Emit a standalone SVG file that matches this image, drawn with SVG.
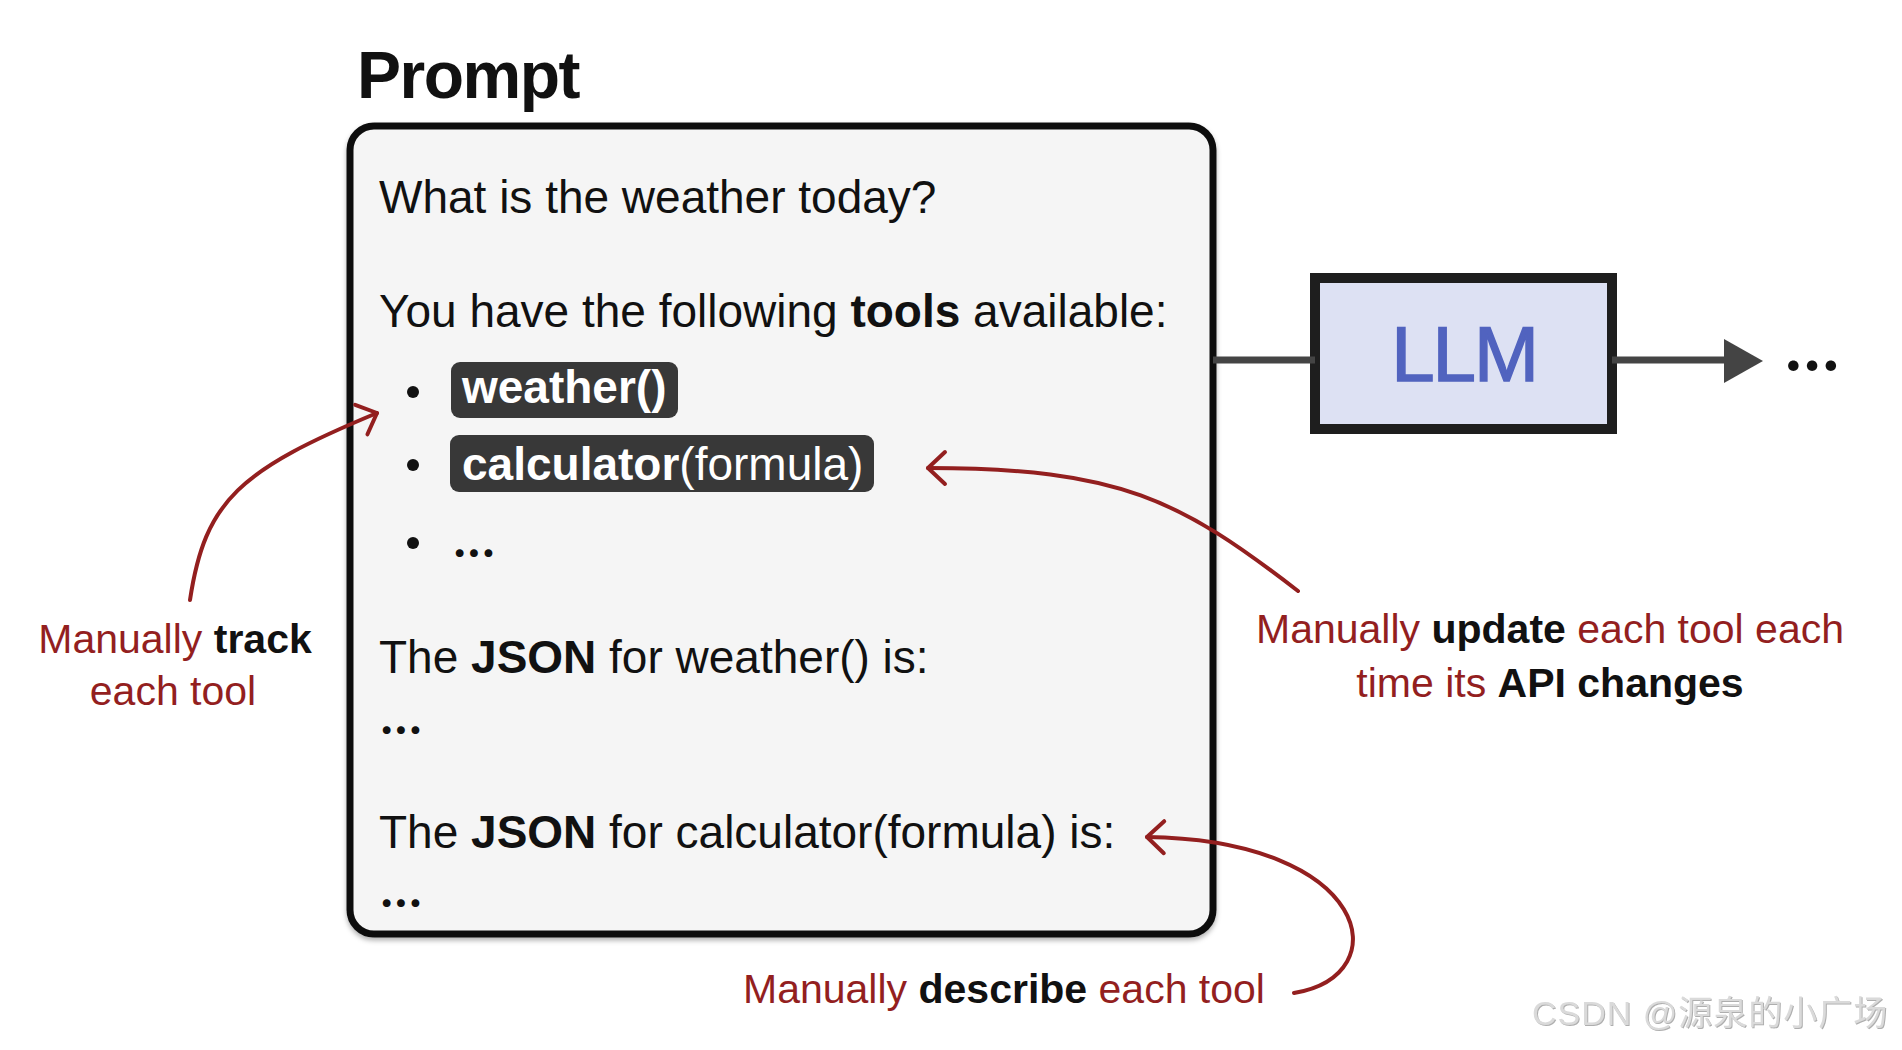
<svg xmlns="http://www.w3.org/2000/svg" width="1902" height="1050" viewBox="0 0 1902 1050">
<style>
text{font-family:"Liberation Sans",Arial,sans-serif;}
.t{font-size:46px;fill:#111;}
.b{font-weight:bold;}
.dots{font-family:Inter,"Liberation Sans",sans-serif;font-weight:bold;}
.pill{fill:#383838;}
.pt{font-size:46px;fill:#fff;}
.ann{font-size:41px;fill:#931f1f;}
.blk{fill:#111;font-weight:bold;}
.red{fill:none;stroke:#931f1f;stroke-width:4;stroke-linecap:round;}
.gray{stroke:#444;stroke-width:7;}
</style>
<defs>
<marker id="chev" markerUnits="userSpaceOnUse" markerWidth="40" markerHeight="40" viewBox="-25 -20 30 40" refX="0" refY="0" orient="auto">
<path d="M-17,-16 L0,0 L-17,16" fill="none" stroke="#931f1f" stroke-width="4" stroke-linecap="round" stroke-linejoin="round"/>
</marker>
<filter id="sh" x="-5%" y="-5%" width="110%" height="110%">
<feDropShadow dx="0" dy="3" stdDeviation="2.5" flood-color="#000" flood-opacity="0.3"/>
</filter>
<filter id="emb" x="-5%" y="-20%" width="110%" height="140%">
<feDropShadow dx="1" dy="1" stdDeviation="0.6" flood-color="#9a9a9a" flood-opacity="0.8"/>
</filter>
</defs>
<rect width="1902" height="1050" fill="#fff"/>

<g id="prompt">
<text x="357" y="98" font-size="66" font-weight="bold" fill="#111" letter-spacing="-1.5">Prompt</text>
<rect x="350" y="126" width="863" height="808" rx="24" fill="#f5f5f5" stroke="#111" stroke-width="7" filter="url(#sh)"/>
<text class="t" x="379" y="213">What is the weather today?</text>
<text class="t" x="379" y="327">You have the following <tspan class="b">tools</tspan> available:</text>
<circle cx="413" cy="392" r="6" fill="#111"/>
<rect class="pill" x="451" y="362" width="227" height="56" rx="9"/>
<text class="pt b" x="462" y="403">weather()</text>
<circle cx="413" cy="465" r="6" fill="#111"/>
<rect class="pill" x="450" y="435" width="424" height="57" rx="9"/>
<text class="pt" x="462" y="480"><tspan class="b">calculator</tspan>(formula)</text>
<circle cx="413" cy="543" r="6" fill="#111"/>
<text class="t dots" x="452" y="557" font-size="34" letter-spacing="-1">...</text>
<text class="t" x="379" y="673">The <tspan class="b">JSON</tspan> for weather() is:</text>
<text class="t dots" x="379" y="734" font-size="34" letter-spacing="-1">...</text>
<text class="t" x="379" y="848">The <tspan class="b">JSON</tspan> for calculator(formula) is:</text>
<text class="t dots" x="379" y="907" font-size="34" letter-spacing="-1">...</text>
</g>

<g id="llm">
<rect x="1315" y="278" width="297" height="151" fill="#dde1f3" stroke="#1e1e1e" stroke-width="10"/>
<text x="1464" y="381" font-size="78" fill="#5163bf" stroke="#5163bf" stroke-width="1.5" text-anchor="middle" letter-spacing="-2">LLM</text>
</g>

<g id="output">
<text class="dots" x="1783" y="370" font-size="62" fill="#111" letter-spacing="-2">...</text>
</g>

<g id="note-track">
<text class="ann" x="175" y="653" text-anchor="middle">Manually <tspan class="blk">track</tspan></text>
<text class="ann" x="173" y="705" text-anchor="middle">each tool</text>
</g>

<g id="note-update">
<text class="ann" x="1550" y="643" text-anchor="middle">Manually <tspan class="blk">update</tspan> each tool each</text>
<text class="ann" x="1550" y="697" text-anchor="middle">time its <tspan class="blk">API changes</tspan></text>
</g>

<g id="note-describe">
<text class="ann" x="743" y="1003">Manually <tspan class="blk">describe</tspan> each tool</text>
</g>

<g id="connectors">
<line class="gray" x1="1213" y1="360" x2="1315" y2="360"/>
<line class="gray" x1="1612" y1="360" x2="1728" y2="360"/>
<polygon points="1724,339 1763,361 1724,383" fill="#444"/>
<path class="red" d="M190,600 C205,500 240,470 377,413" marker-end="url(#chev)"/>
<path class="red" d="M1298,591 C1180,500 1120,468 928,468" marker-end="url(#chev)"/>
<path class="red" d="M1294,993 C1400,975 1370,840 1147,837" marker-end="url(#chev)"/>
</g>

<g id="watermark">
<text x="1532" y="1025" font-size="34" fill="#dadada" letter-spacing="1" filter="url(#emb)" style="font-family:'Liberation Sans','Noto Sans CJK SC',sans-serif">CSDN @源泉的小广场</text>
</g>
</svg>
